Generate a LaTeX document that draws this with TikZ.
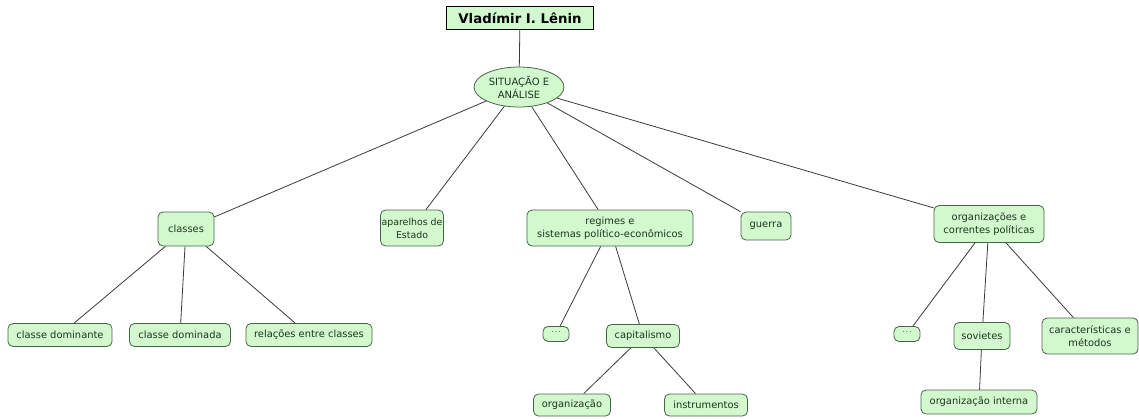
\documentclass[tikz,border=0pt]{standalone}
\usepackage{fontspec}
\setmainfont{DejaVu Sans}
\usetikzlibrary{shapes.geometric}
\definecolor{leaf}{HTML}{D2F8CE}
\definecolor{rim}{HTML}{4A644A}
\definecolor{ink}{HTML}{1E361E}
\definecolor{wire}{HTML}{3A3A3A}
\begin{document}
\begin{tikzpicture}[x=1pt,y=-1pt,
  topic/.style={draw=rim, fill=leaf, rounded corners=5pt, line width=0.8pt,
    text=ink, font=\fontsize{9.9}{13}\selectfont, align=center, inner sep=1pt},
  hub/.style={ellipse, draw=rim, fill=leaf, line width=0.8pt, text=ink,
    font=\fontsize{10}{13}\selectfont, align=center, inner sep=0pt},
  headbox/.style={draw=black, fill=leaf, line width=0.9pt, text=black,
    font=\fontsize{13.3}{15}\selectfont\bfseries, inner sep=1pt},
  more/.style={topic, font=\fontsize{7}{8}\selectfont},
  link/.style={draw=wire, line width=0.8pt}]
\useasboundingbox (0,0) rectangle (1139,418);

% root and central theme
\node[headbox, minimum width=147pt, minimum height=23pt] (lenin) at (520,18) {Vladímir I. Lênin};
\node[hub, minimum width=90pt, minimum height=40pt] (sit) at (519,87) {SITUAÇÃO E\\ANÁLISE};

% first level
\node[topic, minimum width=56pt, minimum height=34pt] (cls) at (186,229) {classes};
\node[topic, minimum width=62pt, minimum height=36pt, font=\fontsize{9.4}{13}\selectfont] (apa) at (412,228) {aparelhos de\\Estado};
\node[topic, minimum width=166pt, minimum height=36pt] (reg) at (610,228) {regimes e\\sistemas político-econômicos};
\node[topic, minimum width=50pt, minimum height=28pt] (gue) at (766,226) {guerra};
\node[topic, minimum width=110pt, minimum height=37pt] (org) at (989,224) {organizações e\\correntes políticas};

% classes
\node[topic, minimum width=104pt, minimum height=23pt] (cdom) at (60,335) {classe dominante};
\node[topic, minimum width=101pt, minimum height=23pt] (cdmd) at (180,335) {classe dominada};
\node[topic, minimum width=126pt, minimum height=23pt] (rel) at (309,335) {relações entre classes};

% regimes
\node[more, minimum width=26pt, minimum height=15pt] (regx) at (556,334) {\raisebox{1pt}{·\,·\,·}};
\node[topic, minimum width=73pt, minimum height=23pt] (cap) at (643,336) {capitalismo};
\node[topic, minimum width=77pt, minimum height=22pt] (orgz) at (572,405) {organização};
\node[topic, minimum width=83pt, minimum height=22pt] (ins) at (706,405) {instrumentos};

% organizations
\node[more, minimum width=26pt, minimum height=15pt] (orgx) at (907,334) {\raisebox{1pt}{·\,·\,·}};
\node[topic, minimum width=56pt, minimum height=27pt] (sov) at (982,336) {sovietes};
\node[topic, minimum width=96pt, minimum height=36pt] (car) at (1090,336) {características e\\métodos};
\node[topic, minimum width=116pt, minimum height=24pt] (oint) at (979,402) {organização interna};

% connectors
\draw[link] (lenin) -- (sit);
\foreach \t in {cls,apa,reg,gue,org} \draw[link] (sit) -- (\t);
\foreach \t in {cdom,cdmd,rel} \draw[link] (cls) -- (\t);
\foreach \t in {regx,cap} \draw[link] (reg) -- (\t);
\foreach \t in {orgz,ins} \draw[link] (cap) -- (\t);
\foreach \t in {orgx,sov,car} \draw[link] (org) -- (\t);
\draw[link] (sov) -- (oint);
\end{tikzpicture}
\end{document}
